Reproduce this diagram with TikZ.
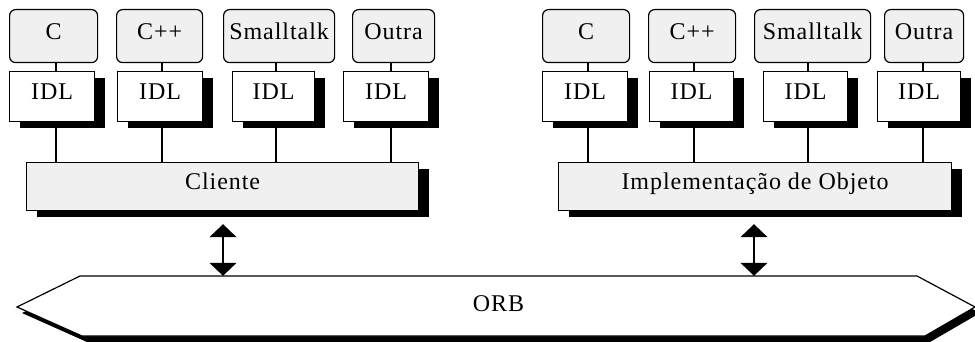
\documentclass[tikz,border=0pt]{standalone}
\usepackage{fontspec}
\setmainfont{Liberation Serif}[LetterSpace=4]
\usetikzlibrary{arrows.meta,shadows,calc}

\begin{document}
\begin{tikzpicture}[x=1pt,y=-1pt,
  every node/.style={font=\fontsize{24}{28}\selectfont, inner sep=0pt,
    text height=16pt, text depth=10pt, anchor=north west},
  boxshadow/.style={drop shadow={shadow xshift=10.5pt, shadow yshift=-6.5pt,
    fill=black, opacity=1}},
  lang/.style={draw, line width=1.2pt, rounded corners=6pt, fill=black!6,
    minimum height=53pt},
  idl/.style={draw, line width=1.2pt, fill=white, minimum height=50pt, boxshadow},
  tier/.style={draw, line width=1.2pt, fill=black!6, minimum height=48pt, boxshadow},
  wire/.style={line width=1.2pt},
  dbl/.style={line width=1.2pt,
    {Triangle[width=27pt,length=13pt]}-{Triangle[width=27pt,length=13pt]}}]

\useasboundingbox (0,0) rectangle (975,342);

% ---- client side ----
\node[lang, minimum width=88pt]  (lc1) at (9,9)   {C};
\node[lang, minimum width=86pt]  (lc2) at (116,9) {C++};
\node[lang, minimum width=111pt] (lc3) at (223,9) {Smalltalk};
\node[lang, minimum width=82pt]  (lc4) at (352,9) {Outra};

\node[idl, minimum width=85pt] (li1) at (9,71)   {IDL};
\node[idl, minimum width=85pt] (li2) at (117,71) {IDL};
\node[idl, minimum width=82pt] (li3) at (232,71) {IDL};
\node[idl, minimum width=85pt] (li4) at (343,71) {IDL};

\node[tier, minimum width=392pt] (cli) at (26,162) {Cliente};

% ---- object implementation side ----
\node[lang, minimum width=87pt]  (rc1) at (542,9) {C};
\node[lang, minimum width=87pt]  (rc2) at (648,9) {C++};
\node[lang, minimum width=116pt] (rc3) at (754,9) {Smalltalk};
\node[lang, minimum width=79pt]  (rc4) at (884,9) {Outra};

\node[idl, minimum width=85pt] (ri1) at (542,71) {IDL};
\node[idl, minimum width=84pt] (ri2) at (649,71) {IDL};
\node[idl, minimum width=84pt] (ri3) at (763,71) {IDL};
\node[idl, minimum width=83pt] (ri4) at (877,71) {IDL};

\node[tier, minimum width=393pt] (impl) at (558,162) {Implementação de Objeto};

% ---- connectors between the layers ----
\foreach \x [count=\i] in {56, 162, 276, 391, 588, 694, 808, 923} {
  \coordinate (k\i) at (\x,0);
}
\foreach \i in {1,...,4} {
  \draw[wire] (lc\i.south -| k\i) -- (li\i.north -| k\i);
  \draw[wire] (li\i.south -| k\i) -- (cli.north -| k\i);
}
\foreach \i [evaluate=\i as \j using int(\i+4)] in {1,...,4} {
  \draw[wire] (rc\i.south -| k\j) -- (ri\i.north -| k\j);
  \draw[wire] (ri\i.south -| k\j) -- (impl.north -| k\j);
}

% ---- ORB bus ----
\fill[black] (22,313) -- (85,282) -- (922,282) -- (980,313) -- (930,342) -- (87,342) -- cycle;
\draw[line width=1.2pt, fill=white]
  (17,307) -- (80,276) -- (917,276) -- (975,307) -- (925,336) -- (82,336) -- cycle;
\node[anchor=center, minimum width=837pt, minimum height=60pt, text depth=6pt]
  (orb) at (498.5,306) {ORB};

% ---- requests through the ORB ----
\coordinate (a1) at (223,0);
\coordinate (a2) at (754,0);
\draw[dbl] ($(cli.south -| a1)+(0,13)$) -- (orb.north -| a1);
\draw[dbl] ($(impl.south -| a2)+(0,13)$) -- (orb.north -| a2);

\end{tikzpicture}
\end{document}
